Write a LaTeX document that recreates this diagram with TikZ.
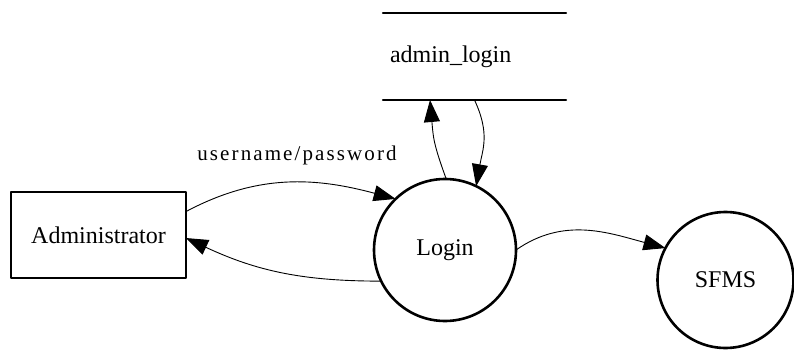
\documentclass[tikz,border=0pt]{standalone}
\usepackage{fontspec}
\setmainfont{Liberation Serif}
\newfontfamily\flowfont[LetterSpace=10]{Liberation Serif}
\usetikzlibrary{arrows.meta}

\begin{document}
\begin{tikzpicture}[x=1pt,y=1pt,>={Triangle[length=22pt,width=16pt]},font=\fontsize{24}{28}\selectfont, line join=round, line cap=round]
  \def\dlogin{142pt} \def\dsfms{136pt} % Durchmesser der Prozesse
  \tikzset{
    entity/.style={draw,line width=1.2pt,minimum width=175pt,minimum height=86pt,inner sep=0pt,outer sep=0pt},
    process/.style={circle,draw,line width=2.6pt,inner sep=0pt,outer sep=0pt},
    store/.style={minimum width=183pt,minimum height=87pt,text width=169pt,align=left,inner xsep=7pt,outer sep=0pt},
    flow/.style={->,line width=0.9pt}
  }
  \useasboundingbox (0,0) rectangle (794,351);
  \node[entity] (admin) at (98.5,116) {Administrator};
  \node[process,minimum size=\dlogin] (login) at (445,101) {Login};
  \node[process,minimum size=\dsfms] (sfms) at (725.5,71) {SFMS};
  \node[store] (admstore) at (474.5,294.5) {admin\_login};
  \draw[line width=2.4pt] (admstore.north west) -- (admstore.north east);
  \draw[line width=2.4pt] (admstore.south west) -- (admstore.south east);
  \node (flowlbl) at (297,196) {\flowfont\fontsize{21}{24}\selectfont username/password};
  % Datenfluesse
  \draw[flow] (admin.15) to[out=28,in=165] (login.134);
  \draw[flow] (login.206) to[out=180,in=-25] (admin.-2);
  \draw[flow] (login.89) to[out=110,in=-85,looseness=1.2] ([xshift=-44.5pt]admstore.south);
  \draw[flow] (admstore.south) to[out=-65,in=80,looseness=1.1] (login.64);
  \draw[flow] (login.east) to[out=35,in=165] (sfms.152);
\end{tikzpicture}
\end{document}
